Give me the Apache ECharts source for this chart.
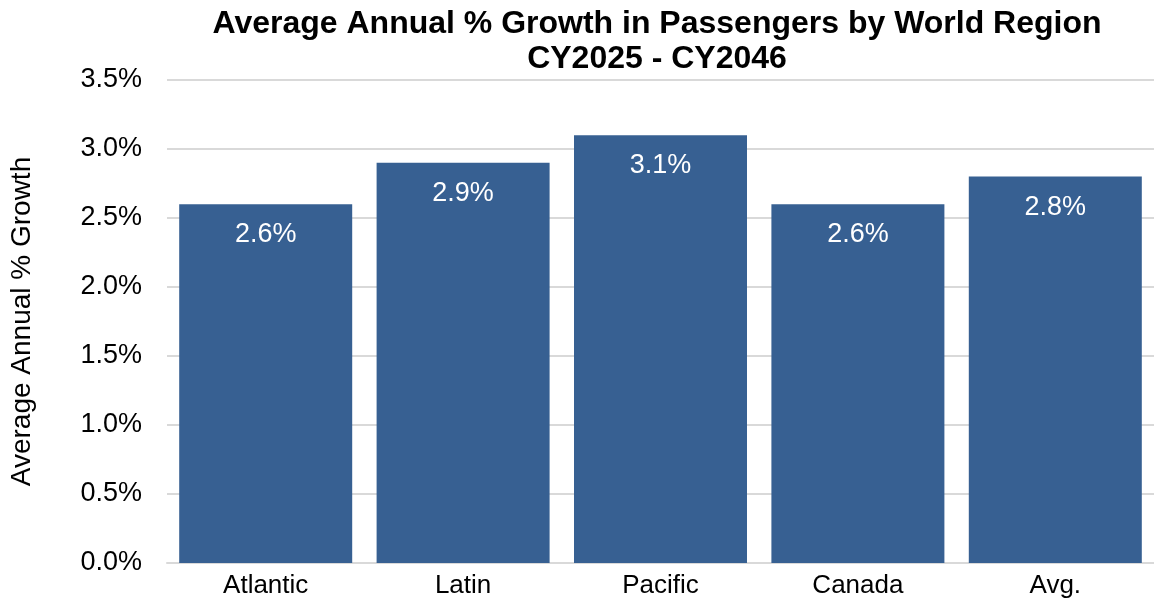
<!DOCTYPE html>
<html>
<head>
<meta charset="utf-8">
<script src="https://cdn.jsdelivr.net/npm/echarts@6/dist/echarts.min.js"></script>
<style>
  html, body { margin: 0; padding: 0; background: #fff; }
  #chart { width: 1154px; height: 607px; }
</style>
</head>
<body>
<div id="chart"></div>
<script>
// Regions and their average annual passenger growth (percent)
const regions = ['Atlantic', 'Latin', 'Pacific', 'Canada', 'Avg.'];
const growthPct = [2.6, 2.9, 3.1, 2.6, 2.8];

const titleLines = ['Average Annual % Growth in Passengers by World Region', 'CY2025 - CY2046'];
const yAxisTitle = 'Average Annual % Growth';

const FONT = '"Liberation Sans", Arial, sans-serif';

const chart = echarts.init(document.getElementById('chart'), null, { renderer: 'canvas' });
chart.setOption({
  animation: false,
  backgroundColor: '#ffffff',
  title: {
    text: titleLines.join('\n'),
    left: 652,
    textAlign: 'center',
    top: 2,
    textStyle: {
      fontFamily: FONT,
      fontWeight: 'bold',
      fontSize: 32,
      lineHeight: 35,
      color: '#000'
    }
  },
  grid: { left: 167, top: 80, right: -8, bottom: 44, containLabel: false },
  xAxis: {
    type: 'category',
    data: regions,
    axisTick: { show: false },
    axisLine: { show: true, lineStyle: { color: '#d9d9d9', width: 2 } },
    axisLabel: { color: '#000', fontFamily: FONT, fontSize: 26, margin: 10 }
  },
  yAxis: {
    type: 'value',
    min: 0,
    max: 3.5,
    interval: 0.5,
    name: yAxisTitle,
    nameLocation: 'middle',
    nameGap: 131,
    nameRotate: 90,
    nameTextStyle: { color: '#000', fontFamily: FONT, fontSize: 28 },
    axisLine: { show: false },
    axisTick: { show: false },
    splitLine: { lineStyle: { color: '#d9d9d9', width: 2 } },
    axisLabel: {
      color: '#000',
      fontFamily: FONT,
      fontSize: 27,
      margin: 25,
      formatter: v => v.toFixed(1) + '%'
    }
  },
  series: [{
    type: 'bar',
    data: growthPct,
    barWidth: 173,
    itemStyle: { color: '#376092' },
    label: {
      show: true,
      position: 'insideTop',
      distance: 17,
      color: '#fff',
      fontFamily: FONT,
      fontSize: 27,
      formatter: p => p.value.toFixed(1) + '%'
    }
  }]
});
</script>
</body>
</html>
